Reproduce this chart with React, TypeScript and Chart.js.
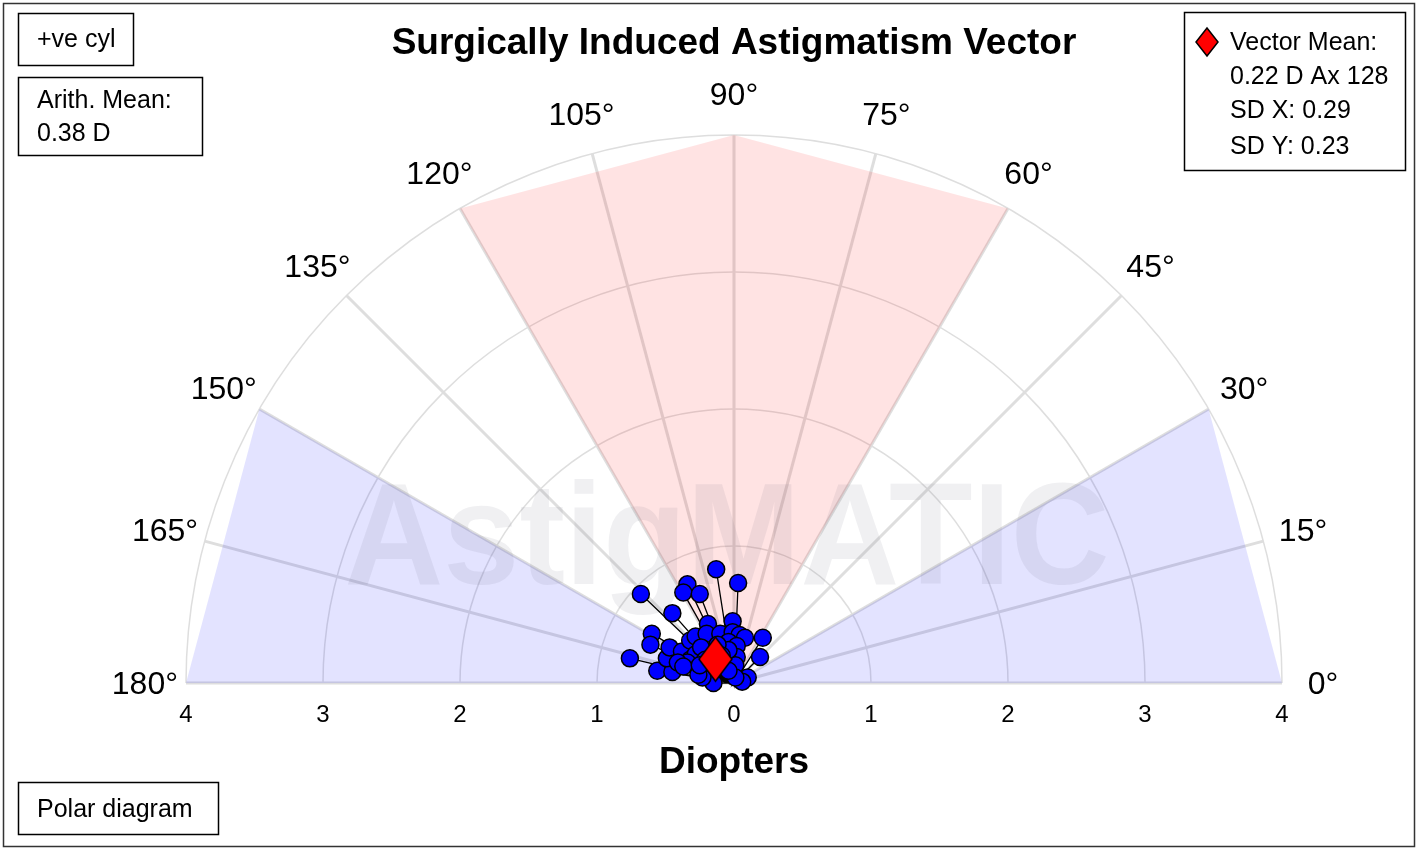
import React, { useEffect, useRef } from "react";
import { Chart, registerables } from "chart.js";

Chart.register(...registerables);

// ---- Data ----
const CHART_TITLE = "Surgically Induced Astigmatism Vector";
const X_AXIS_TITLE = "Diopters";
const WATERMARK = "AstigMATIC";

// Surgically induced astigmatism vectors (diopters, x = D·cos(axis), y = D·sin(axis))
const siaX = [
  -0.13, 0.03, -0.34, -0.37, -0.25, -0.68, -0.45, -0.19, -0.01, 0.21,
  0.19, 0.1, 0.06, -0.6, -0.61, -0.76, -0.56, -0.45, -0.49, -0.47,
  -0.38, -0.32, -0.28, -0.2, -0.1, -0.01, 0.04, 0.08, -0.04, 0.02,
  -0.32, -0.28, -0.24, 0.02, 0.01, 0.01, -0.19, -0.15, -0.23, -0.34,
  -0.41, -0.37, -0.04, -0.04, -0.12, -0.26, -0.14, -0.09, -0.21, -0.25,
];
const siaY = [
  0.83, 0.73, 0.72, 0.66, 0.65, 0.65, 0.51, 0.43, 0.45, 0.33,
  0.19, 0.04, 0.01, 0.36, 0.28, 0.18, 0.09, 0.08, 0.18, 0.26,
  0.23, 0.31, 0.34, 0.36, 0.36, 0.37, 0.35, 0.33, 0.3, 0.27,
  0.17, 0.21, 0.26, 0.19, 0.13, 0.04, 0.06, 0.0, 0.04, 0.15,
  0.15, 0.12, 0.09, 0.24, 0.28, 0.06, 0.13, 0.2, 0.17, 0.13,
];

const meanMagnitude = 0.22;
const meanAxis = 128;

const ringValues = [1, 2, 3, 4];
const spokeAngles = [0, 15, 30, 45, 60, 75, 90, 105, 120, 135, 150, 165, 180];
const xTickValues = [-4, -3, -2, -1, 0, 1, 2, 3, 4];
const redSectorAngles = [60, 90, 120];
const blueSectorAngles = [
  [0, 30],
  [150, 180],
];

const cylLabel = "+ve cyl";
const arithMeanLines = ["Arith. Mean:", "0.38 D"];
const legendLines = ["Vector Mean:", "0.22 D Ax 128", "SD X: 0.29", "SD Y: 0.23"];
const diagramLabel = "Polar diagram";

const FONT = "'Liberation Sans', Arial, Helvetica, sans-serif";

function makeDiamond(w: number, h: number): HTMLCanvasElement {
  const c = document.createElement("canvas");
  c.width = w + 4;
  c.height = h + 4;
  const g = c.getContext("2d")!;
  g.beginPath();
  g.moveTo(c.width / 2, 2);
  g.lineTo(c.width - 2, c.height / 2);
  g.lineTo(c.width / 2, c.height - 2);
  g.lineTo(2, c.height / 2);
  g.closePath();
  g.fillStyle = "#ff0000";
  g.fill();
  g.lineWidth = 1.5;
  g.strokeStyle = "#000";
  g.stroke();
  return c;
}

const polarPlugin = {
  id: "polarBackground",
  beforeDatasetsDraw(chart: any) {
    const ctx: CanvasRenderingContext2D = chart.ctx;
    const xs = chart.scales.x;
    const ys = chart.scales.y;
    const ox = xs.getPixelForValue(0);
    const oy = ys.getPixelForValue(0);
    const pt = (r: number, deg: number) => {
      const a = (deg * Math.PI) / 180;
      return {
        x: xs.getPixelForValue(r * Math.cos(a)),
        y: ys.getPixelForValue(r * Math.sin(a)),
      };
    };
    const rMax = ringValues[ringValues.length - 1];

    ctx.save();
    // white background
    ctx.fillStyle = "#fff";
    ctx.fillRect(0, 0, chart.width, chart.height);

    // outer frame
    ctx.strokeStyle = "#333";
    ctx.lineWidth = 1.5;
    ctx.strokeRect(3.5, 3.5, chart.width - 7, chart.height - 7);

    // spokes
    ctx.strokeStyle = "rgb(222,222,222)";
    ctx.lineWidth = 3;
    spokeAngles.forEach((d) => {
      const p = pt(rMax, d);
      ctx.beginPath();
      ctx.moveTo(ox, oy);
      ctx.lineTo(p.x, p.y);
      ctx.stroke();
    });

    // rings
    ctx.strokeStyle = "rgb(222,222,222)";
    ctx.lineWidth = 1.5;
    ringValues.forEach((r) => {
      const R = xs.getPixelForValue(r) - ox;
      ctx.beginPath();
      ctx.arc(ox, oy, R, Math.PI, 2 * Math.PI);
      ctx.stroke();
    });

    // sectors
    const fillSector = (angles: number[], color: string) => {
      ctx.beginPath();
      ctx.moveTo(ox, oy);
      angles.forEach((d) => {
        const p = pt(rMax, d);
        ctx.lineTo(p.x, p.y);
      });
      ctx.closePath();
      ctx.fillStyle = color;
      ctx.fill();
    };
    fillSector(redSectorAngles, "rgba(255,0,0,0.11)");
    blueSectorAngles.forEach((a) => fillSector(a, "rgba(0,0,255,0.11)"));

    // watermark
    ctx.save();
    ctx.font = `bold 145px ${FONT}`;
    const wmW = ctx.measureText(WATERMARK).width;
    const targetW = 765;
    ctx.translate(727, 584);
    ctx.scale(targetW / wmW, 1);
    ctx.fillStyle = "rgba(110,110,130,0.10)";
    ctx.textAlign = "center";
    ctx.textBaseline = "alphabetic";
    ctx.fillText(WATERMARK, 0, 0);
    ctx.restore();

    // angle labels
    ctx.fillStyle = "#000";
    ctx.font = `32px ${FONT}`;
    ctx.textAlign = "center";
    ctx.textBaseline = "middle";
    spokeAngles.forEach((d) => {
      const p = pt(4.3, d);
      ctx.fillText(`${d}°`, p.x, p.y + 2);
    });

    // x tick labels
    ctx.font = `24px ${FONT}`;
    xTickValues.forEach((v) => {
      ctx.fillText(String(Math.abs(v)), xs.getPixelForValue(v), oy + 32);
    });

    // axis title
    ctx.font = `bold 37px ${FONT}`;
    ctx.fillText(X_AXIS_TITLE, ox, oy + 80);

    // chart title
    ctx.font = `bold 37px ${FONT}`;
    ctx.fillText(CHART_TITLE, ox, 44);

    // boxes
    ctx.strokeStyle = "#000";
    ctx.lineWidth = 1.5;
    ctx.font = `25px ${FONT}`;
    ctx.textAlign = "left";
    ctx.strokeRect(18.5, 13.5, 115, 52);
    ctx.fillText(cylLabel, 37, 40);

    ctx.strokeRect(18.5, 77.5, 184, 78);
    arithMeanLines.forEach((t, i) => ctx.fillText(t, 37, 101 + i * 33));

    ctx.strokeRect(18.5, 782.5, 200, 52);
    ctx.fillText(diagramLabel, 37, 810);

    ctx.strokeRect(1184.5, 12.5, 221, 158);
    const lineYs = [43, 77, 111, 147];
    legendLines.forEach((t, i) => ctx.fillText(t, 1230, lineYs[i]));
    // legend diamond
    ctx.beginPath();
    ctx.moveTo(1207, 28);
    ctx.lineTo(1218, 42);
    ctx.lineTo(1207, 56);
    ctx.lineTo(1196, 42);
    ctx.closePath();
    ctx.fillStyle = "#ff0000";
    ctx.fill();
    ctx.lineWidth = 1.5;
    ctx.stroke();

    ctx.restore();
  },
};

export default function App() {
  const canvasRef = useRef<HTMLCanvasElement | null>(null);

  useEffect(() => {
    if (!canvasRef.current) return;
    const points = siaX.map((x, i) => ({ x, y: siaY[i] }));
    const spokesData: { x: number; y: number }[] = [];
    points.forEach((p) => {
      spokesData.push({ x: 0, y: 0 });
      spokesData.push(p);
    });
    const a = (meanAxis * Math.PI) / 180;
    const meanPoint = { x: meanMagnitude * Math.cos(a), y: meanMagnitude * Math.sin(a) };
    const diamond = makeDiamond(33, 44);

    const chart = new Chart(canvasRef.current, {
      type: "scatter",
      data: {
        datasets: [
          {
            label: "Vector Mean",
            data: [meanPoint],
            pointStyle: diamond as any,
            pointRadius: 20,
            clip: false as any,
            order: 0,
          },
          {
            label: "SIA",
            data: points,
            backgroundColor: "#0000ff",
            borderColor: "#000",
            borderWidth: 1.5,
            pointRadius: 8.5,
            clip: false as any,
            order: 1,
          },
          {
            type: "line" as any,
            label: "vectors",
            data: spokesData,
            showLine: true,
            borderColor: "#000",
            borderWidth: 1.3,
            pointRadius: 0,
            fill: false,
            clip: false as any,
            order: 2,
          },
        ],
      },
      options: {
        responsive: false,
        animation: false,
        layout: { padding: { left: 186, right: 136, top: 135, bottom: 167 } },
        scales: {
          x: { type: "linear", min: -4, max: 4, display: false },
          y: { type: "linear", min: 0, max: 4, display: false },
        },
        plugins: {
          legend: { display: false },
          tooltip: { enabled: false },
          title: { display: false },
        },
      },
      plugins: [polarPlugin],
    });
    return () => chart.destroy();
  }, []);

  return (
    <div style={{ position: "absolute", left: 0, top: 0, width: 1418, height: 850 }}>
      <canvas ref={canvasRef} width={1418} height={850} style={{ display: "block" }} />
    </div>
  );
}
